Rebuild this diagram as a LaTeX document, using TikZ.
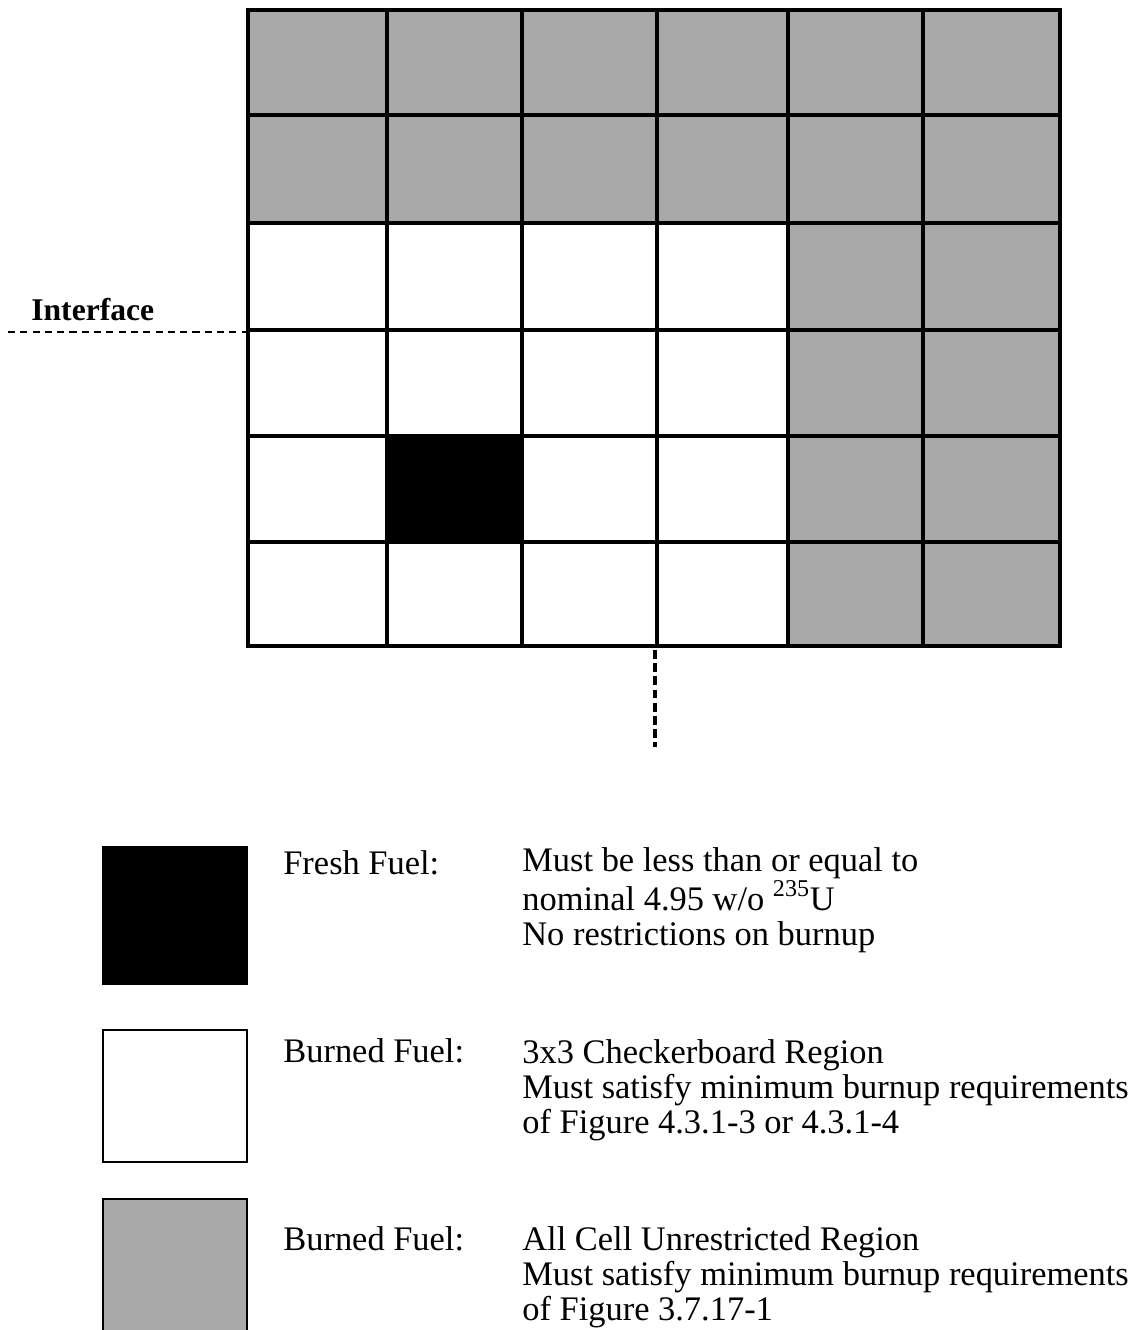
\documentclass[tikz,border=0pt]{standalone}
\usepackage{fontspec}
\setmainfont{Liberation Serif}
\definecolor{burngray}{RGB}{168,168,168}

\begin{document}
\begin{tikzpicture}[x=0.02cm,y=-0.02cm,
  cellline/.style={line width=2.2pt,line cap=rect},
  legtext/.style={anchor=base west,inner sep=0pt,align=left,font=\fontsize{19.6}{19.9}\selectfont}]
\useasboundingbox (0,0) rectangle (1129,1330);
\fill[burngray] (248,10) rectangle (1060,223);
\fill[burngray] (788,223) rectangle (1060,646);
\fill (387,436) rectangle (522,542);
\foreach \x in {248,387,522,657,788,923,1060}
  \draw[cellline] (\x,10)--(\x,646);
\foreach \y in {10,115,223,330,436,542,646}
  \draw[cellline] (248,\y)--(1060,\y);
\node[anchor=base west,inner sep=0pt,font=\bfseries\fontsize{18}{20}\selectfont] (iface) at (31,320) {Interface};
\coordinate (ifaceL) at (8,332);
\coordinate (gridW) at (248,332);
\draw[line width=1.2pt,dash pattern=on 4pt off 3pt] (ifaceL)--(gridW);
\coordinate (gridS) at (655,650);
\coordinate (cutS) at (655,747);
\draw[line width=1.8pt,dash pattern=on 5pt off 2.5pt] (gridS)--(cutS);
\fill (102,846) rectangle (248,985);
\draw[line width=1.6pt] (103,1030) rectangle (247,1162);
\fill[burngray] (102,1198) rectangle (248,1330);
\draw[line width=1.6pt] (103,1199) rectangle (247,1335);
\node[legtext] (freshlbl) at (283,874) {Fresh Fuel:};
\node[legtext] (freshtxt) at (522,945) {Must be less than or equal to\\nominal 4.95 w/o \textsuperscript{235}U\\No restrictions on burnup};
\node[legtext] (chklbl) at (283,1062) {Burned Fuel:};
\node[legtext] (chktxt) at (522,1133) {3x3 Checkerboard Region\\Must satisfy minimum burnup requirements\\of Figure 4.3.1-3 or 4.3.1-4};
\node[legtext] (alllbl) at (283,1250) {Burned Fuel:};
\node[legtext] (alltxt) at (522,1320) {All Cell Unrestricted Region\\Must satisfy minimum burnup requirements\\of Figure 3.7.17-1};
\end{tikzpicture}
\end{document}
